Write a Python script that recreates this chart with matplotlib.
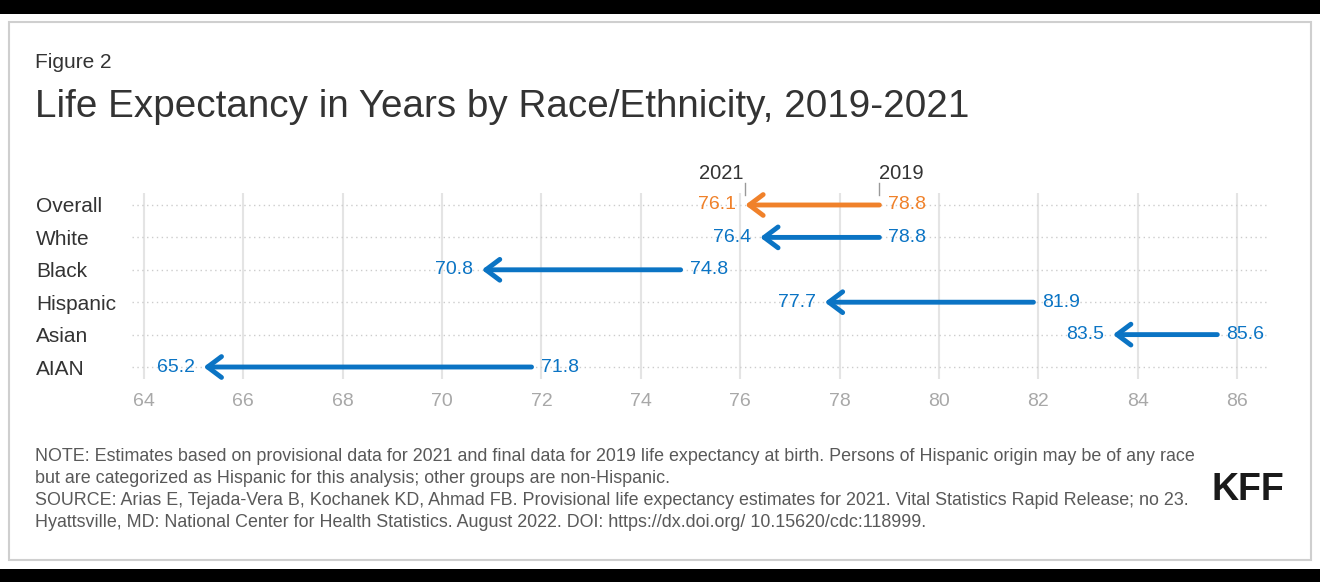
import numpy as np
import matplotlib.pyplot as plt
from matplotlib.patches import Rectangle

plt.rcParams['font.family'] = ['Liberation Sans', 'DejaVu Sans']

# data
groups = ['Overall', 'White', 'Black', 'Hispanic', 'Asian', 'AIAN']
le_2019 = [78.8, 78.8, 74.8, 81.9, 85.6, 71.8]
le_2021 = [76.1, 76.4, 70.8, 77.7, 83.5, 65.2]
x_ticks = np.arange(64, 87, 2)

orange = '#F0812A'
blue = '#0B74C4'
colors = [orange] + [blue] * 5

fig = plt.figure(figsize=(13.2, 5.82), dpi=100, facecolor='white')

# black bands top/bottom and card border
fig.add_artist(Rectangle((0, 1 - 14 / 582), 1, 14 / 582, transform=fig.transFigure,
                         facecolor='black', edgecolor='none'))
fig.add_artist(Rectangle((0, 0), 1, 13 / 582, transform=fig.transFigure,
                         facecolor='black', edgecolor='none'))
fig.add_artist(Rectangle((9 / 1320, 22 / 582), 1302 / 1320, 538 / 582, transform=fig.transFigure,
                         facecolor='none', edgecolor='#cfcfcf', lw=1.5))

ax = fig.add_axes([132 / 1320, 1 - 379 / 582, 1136 / 1320, 186 / 582])
ax.set_xlim(63.76, 86.62)
ax.set_ylim(5.37, -0.37)
for s in ax.spines.values():
    s.set_visible(False)

ax.set_xticks(x_ticks)
ax.set_xticklabels([str(t) for t in x_ticks])
ax.tick_params(axis='x', length=0, pad=10, labelsize=14, labelcolor='#a8a8a8')
ax.set_yticks(range(len(groups)))
ax.set_yticklabels(groups)
ax.tick_params(axis='y', length=0, pad=69, labelsize=15, labelcolor='#333333')
for lab in ax.get_yticklabels():
    lab.set_horizontalalignment('left')

ax.grid(axis='x', color='#e4e4e4', lw=1.5)
ax.grid(axis='y', color='#cccccc', lw=1, linestyle=(0, (1, 2.5)))
ax.set_axisbelow(True)

for i, (a, b, c) in enumerate(zip(le_2019, le_2021, colors)):
    ax.annotate('', xy=(b, i), xytext=(a, i),
                arrowprops=dict(arrowstyle='->, head_length=1.0, head_width=0.75',
                                color=c, lw=3.5, shrinkA=0, shrinkB=0))
    ax.annotate(f'{b:.1f}', xy=(b, i), xytext=(-9, 0), textcoords='offset pixels',
                ha='right', va='center', fontsize=14, color=c)
    ax.annotate(f'{a:.1f}', xy=(a, i), xytext=(9, 0), textcoords='offset pixels',
                ha='left', va='center', fontsize=14, color=c)

# year markers above the first row
ax.plot([le_2021[0]] * 2, [-0.68, -0.31], color='#999999', lw=1, clip_on=False)
ax.plot([le_2019[0]] * 2, [-0.68, -0.31], color='#999999', lw=1, clip_on=False)
ax.text(le_2021[0] - 0.04, -0.98, '2021', ha='right', va='center', fontsize=14.5, color='#333333')
ax.text(le_2019[0], -0.98, '2019', ha='left', va='center', fontsize=14.5, color='#333333')

# titles
fig.text(35 / 1320, 1 - 68 / 582, 'Figure 2', fontsize=15, color='#333333', va='baseline')
fig.text(35 / 1320, 1 - 117 / 582, 'Life Expectancy in Years by Race/Ethnicity, 2019-2021',
         fontsize=27.8, color='#333333', va='baseline')

notes = [
    'NOTE: Estimates based on provisional data for 2021 and final data for 2019 life expectancy at birth. Persons of Hispanic origin may be of any race',
    'but are categorized as Hispanic for this analysis; other groups are non-Hispanic.',
    'SOURCE: Arias E, Tejada-Vera B, Kochanek KD, Ahmad FB. Provisional life expectancy estimates for 2021. Vital Statistics Rapid Release; no 23.',
    'Hyattsville, MD: National Center for Health Statistics. August 2022. DOI: https://dx.doi.org/ 10.15620/cdc:118999.',
]
for k, line in enumerate(notes):
    fig.text(35 / 1320, 1 - (461 + 22 * k) / 582, line, fontsize=12.85, color='#595959', va='baseline')

fig.text(1284 / 1320, 1 - 500 / 582, 'KFF', fontsize=27, fontweight='bold', color='#1a1a1a',
         ha='right', va='baseline')

fig.savefig('out.png', dpi=100, facecolor='white')
